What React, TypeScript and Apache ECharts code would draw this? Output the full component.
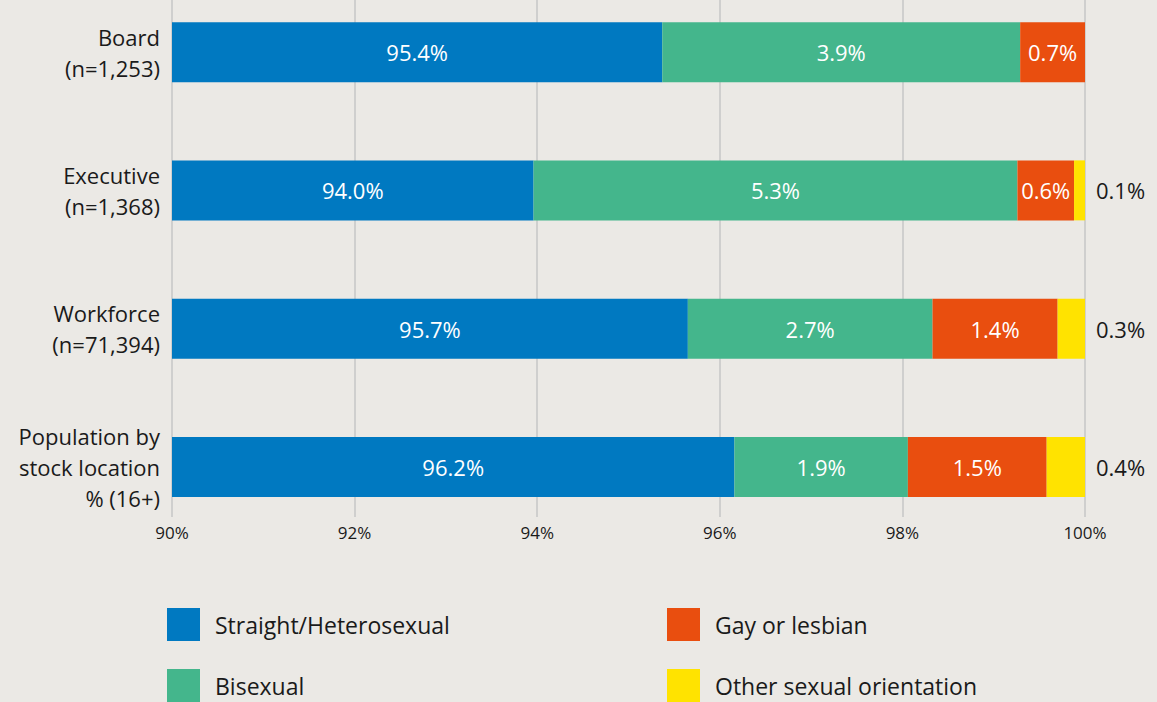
import React, { useEffect, useRef } from "react";
import * as echarts from "echarts";

const categories = ["Board\n(n=1,253)", "Executive\n(n=1,368)", "Workforce\n(n=71,394)", "Population by\nstock location\n% (16+)"];
const straight = [95.37, 93.96, 95.65, 96.16];
const bisexual = [3.92, 5.3, 2.68, 1.9];
const gay = [0.71, 0.62, 1.37, 1.52];
const other = [0, 0.12, 0.3, 0.42];
const seriesNames = ["Straight/Heterosexual", "Bisexual", "Gay or lesbian", "Other sexual orientation"];
const colors = ["#0079C1", "#44B68C", "#E94E0F", "#FFE300"];
const xMin = 90;
const xMax = 100;
const xInterval = 2;

const FONT = "'Open Sans', 'Noto Sans', sans-serif";
const SHIFT = 17;

export default function App() {
  const ref = useRef<HTMLDivElement>(null);
  useEffect(() => {
    document.body.style.margin = "0";
    document.body.style.overflow = "hidden";
    document.body.style.backgroundColor = "#EBE9E5";
    const chart = echarts.init(ref.current!, null, { renderer: "svg" });
    const dataSets = [straight, bisexual, gay, other];
    const fmt = (p: any) => (p.value > 0 ? p.value.toFixed(1) + "%" : "");
    const series = dataSets.map((d, i) => ({
      name: seriesNames[i],
      type: "bar",
      stack: "total",
      xAxisIndex: 0,
      yAxisIndex: 0,
      barWidth: 60,
      data: d,
      itemStyle: { color: colors[i] },
      label: {
        show: true,
        position: i === 3 ? "right" : "inside",
        distance: 11,
        formatter: fmt,
        color: i === 3 ? "#1a1a1a" : "#ffffff",
        fontSize: 22,
        fontFamily: FONT,
      },
    }));
    const legendText = { color: "#1a1a1a", fontSize: 23, padding: [0, 0, 0, 10], fontFamily: FONT };
    chart.setOption({
      animation: false,
      backgroundColor: "#EBE9E5",
      textStyle: { fontFamily: FONT },
      grid: [
        { left: 172, right: 72, top: 0, height: 553 },
        { left: 172, right: 72, top: SHIFT, height: 517 },
      ],
      xAxis: [
        {
          gridIndex: 0,
          type: "value",
          min: xMin,
          max: xMax,
          interval: xInterval,
          axisLabel: { show: false },
          axisLine: { show: false },
          axisTick: { show: false },
          splitLine: { show: false },
        },
        {
          gridIndex: 1,
          type: "value",
          min: xMin,
          max: xMax,
          interval: xInterval,
          axisLabel: { formatter: "{value}%", color: "#1a1a1a", fontSize: 17, margin: 7, fontFamily: FONT },
          axisLine: { show: false },
          axisTick: { show: false },
          splitLine: { show: true, lineStyle: { color: "#C6C6C6", width: 1.5 } },
        },
      ],
      yAxis: [
        {
          gridIndex: 0,
          type: "category",
          inverse: true,
          data: categories,
          axisLine: { show: false },
          axisTick: { show: false },
          axisLabel: { color: "#1a1a1a", fontSize: 22, lineHeight: 31, margin: 12, align: "right", fontFamily: FONT },
        },
        {
          gridIndex: 1,
          type: "value",
          min: 0,
          max: 1,
          show: false,
        },
      ],
      legend: [
        {
          data: [seriesNames[0], seriesNames[1]],
          orient: "vertical",
          left: 167,
          top: 608 + SHIFT,
          height: 120,
          padding: 0,
          itemWidth: 33,
          itemHeight: 33,
          itemGap: 28,
          icon: "rect",
          textStyle: legendText,
        },
        {
          data: [seriesNames[2], seriesNames[3]],
          orient: "vertical",
          left: 667,
          top: 608 + SHIFT,
          height: 120,
          padding: 0,
          itemWidth: 33,
          itemHeight: 33,
          itemGap: 28,
          icon: "rect",
          textStyle: legendText,
        },
      ],
      series,
    });
    return () => chart.dispose();
  }, []);
  return (
    <div style={{ width: 1157, height: 702, overflow: "hidden", position: "relative" }}>
      <div ref={ref} style={{ position: "absolute", left: 0, top: -SHIFT, width: 1157, height: 760 }} />
    </div>
  );
}
